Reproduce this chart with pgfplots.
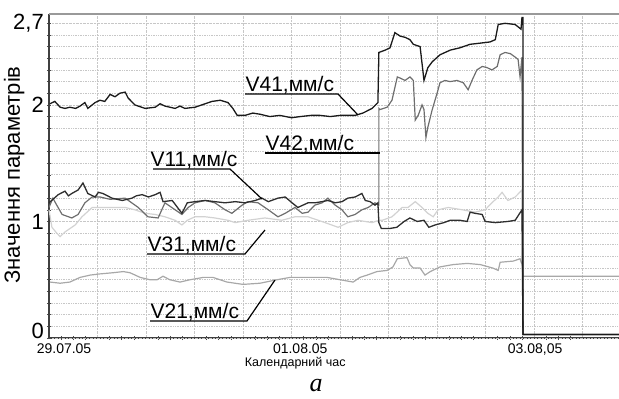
\documentclass[border=0pt]{standalone}
\usepackage{fontspec}
\setmainfont{Liberation Sans}
\newfontfamily\serifface{Liberation Serif}
\usepackage{pgfplots}
\pgfplotsset{compat=1.18}
\definecolor{cV41}{HTML}{1A1A1A}
\definecolor{cV11}{HTML}{2E2E2E}
\definecolor{cV42}{HTML}{6E6E6E}
\definecolor{cV21}{HTML}{A8A8A8}
\definecolor{cV31}{HTML}{D2D2D2}
\begin{document}
\begin{tikzpicture}
\useasboundingbox (0pt,0pt) rectangle (619pt,-399pt);
\begin{axis}[
  width=570pt, height=324pt, scale only axis,
  at={(49pt,-338pt)}, anchor=south west,
  xmin=0, xmax=11.75, ymin=0, ymax=2.78,
  axis x line*=bottom, axis y line*=left,
  axis line style={-, draw=black!75, line width=1.1pt},
  clip=false,
  xtick={0,1,...,11}, xticklabels={},
  major x tick style={draw=none},
  minor x tick num=3,
  extra x ticks={0.31,5.18,10.02},
  extra x tick labels={29.07.05,01.08.05,{03.08,05}},
  extra x tick style={grid=none, major tick length=0pt},
  xmajorgrids=true,
  ytick={1,2,2.7}, yticklabels={1,2,{2,7}},
  extra y ticks={0}, extra y tick labels={0},
  extra y tick style={yticklabel style={yshift=7pt}},
  minor ytick={0.1,0.2,0.3,0.4,0.5,0.6,0.7,0.8,0.9,1.1,1.2,1.3,1.4,1.5,1.6,1.7,1.8,1.9,2.1,2.2,2.3,2.4,2.5,2.6},
  ymajorgrids=true, yminorgrids=true,
  grid style={densely dotted, black!22, line width=0.7pt},
  minor grid style={densely dotted, black!22, line width=0.7pt},
  tick align=center,
  major tick length=4pt, minor tick length=4pt,
  tick style={draw=black!70, line width=0.6pt},
  xticklabel style={font=\fontsize{14}{14}\selectfont, inner sep=0pt, yshift=-6pt},
  yticklabel style={font=\fontsize{22}{22}\selectfont, inner sep=0pt, xshift=-3pt},
  xlabel={Календарний час},
  xlabel style={at={(rel axis cs:0.432,0)}, anchor=north, inner sep=0pt, yshift=-19pt, font=\fontsize{12.5}{12.5}\selectfont},
  ylabel={Значення параметрів},
  ylabel style={at={(rel axis cs:-0.0428,0.503)}, anchor=south, inner sep=0pt, font=\fontsize{22}{22}\selectfont},
]
% top frame line
\draw[black!40, line width=1.3pt] (rel axis cs:0,1) -- (rel axis cs:1,1);
% V31
\addplot[cV31, line width=1.2pt] coordinates {
(0,1.10) (0.06,0.95) (0.16,0.90) (0.23,0.87) (0.33,0.91) (0.54,0.97) (0.68,1.04) (0.89,1.12) (1.09,1.12) (1.30,1.12) (1.57,1.12) (1.77,1.10) (1.98,1.07) (2.19,1.06) (2.39,1.04) (2.60,1.01) (2.74,0.97) (2.85,1.01) (3.01,1.04) (3.22,1.04) (3.42,1.03) (3.69,1.01) (3.84,0.99) (4.10,1.01) (4.45,1.03) (4.80,1.01) (5.07,1.04) (5.34,1.04) (5.69,0.99) (5.96,0.95) (6.16,0.99) (6.37,1.01) (6.66,0.99) (6.80,1.01) (6.87,1.01) (7.07,1.04) (7.28,1.12) (7.40,1.12) (7.55,1.17) (7.69,1.12) (7.81,1.07) (7.92,1.04) (8.02,1.10) (8.23,1.12) (8.52,1.10) (8.78,1.08) (8.99,1.10) (9.13,1.16) (9.26,1.21) (9.34,1.25) (9.46,1.18) (9.61,1.21) (9.75,1.27) (9.77,0.03) (11.75,0.03)};
% V21
\addplot[cV21, line width=1.2pt] coordinates {
(0.02,0.48) (0.23,0.47) (0.43,0.48) (0.64,0.52) (0.85,0.54) (1.05,0.55) (1.32,0.56) (1.53,0.57) (1.67,0.56) (1.88,0.52) (2.08,0.50) (2.23,0.50) (2.35,0.53) (2.49,0.50) (2.70,0.48) (2.91,0.50) (3.18,0.52) (3.38,0.52) (3.67,0.48) (4.00,0.46) (4.35,0.47) (4.70,0.50) (4.97,0.52) (5.44,0.52) (5.73,0.52) (6.00,0.50) (6.27,0.48) (6.41,0.52) (6.56,0.54) (6.76,0.57) (6.97,0.58) (7.09,0.61) (7.18,0.68) (7.38,0.69) (7.44,0.63) (7.51,0.60) (7.65,0.60) (7.75,0.54) (7.86,0.57) (8.06,0.61) (8.33,0.63) (8.62,0.64) (8.89,0.63) (9.15,0.60) (9.26,0.58) (9.30,0.65) (9.57,0.66) (9.71,0.68) (9.75,0.63) (9.77,0.53) (11.75,0.53)};
% V42
\addplot[cV42, line width=1.2pt] coordinates {
(0,1.12) (0.08,1.20) (0.16,1.14) (0.27,1.06) (0.47,1.03) (0.60,1.06) (0.74,1.16) (0.89,1.21) (1.05,1.21) (1.26,1.19) (1.57,1.20) (1.84,1.12) (2.04,1.04) (2.25,1.03) (2.39,1.16) (2.60,1.10) (2.74,1.06) (2.87,1.12) (3.01,1.16) (3.22,1.18) (3.42,1.16) (3.63,1.10) (3.77,1.07) (3.98,1.14) (4.10,1.17) (4.31,1.16) (4.52,1.10) (4.72,1.04) (4.87,1.07) (5.07,1.12) (5.22,1.07) (5.34,1.08) (5.48,1.14) (5.63,1.16) (5.75,1.20) (5.90,1.14) (6.04,1.10) (6.16,1.04) (6.31,1.06) (6.45,1.10) (6.58,1.12) (6.72,1.16) (6.80,1.14) (6.80,1.97) (6.82,1.96) (6.97,1.98) (7.07,2.04) (7.18,2.24) (7.24,2.23) (7.34,2.21) (7.44,2.24) (7.51,2.21) (7.55,1.87) (7.61,1.91) (7.69,2.00) (7.73,1.96) (7.77,1.72) (7.81,1.81) (7.90,1.96) (8.00,2.10) (8.06,2.19) (8.16,2.21) (8.27,2.20) (8.41,2.21) (8.54,2.19) (8.64,2.13) (8.72,2.21) (8.82,2.30) (8.93,2.33) (9.03,2.32) (9.13,2.30) (9.24,2.33) (9.30,2.43) (9.40,2.45) (9.51,2.44) (9.61,2.41) (9.67,2.39) (9.71,2.24) (9.75,2.41) (9.77,0.03) (11.75,0.03)};
% V11
\addplot[cV11, line width=1.3pt] coordinates {
(0,1.16) (0.19,1.23) (0.33,1.26) (0.40,1.22) (0.47,1.24) (0.60,1.27) (0.70,1.33) (0.80,1.24) (0.95,1.21) (1.02,1.25) (1.11,1.24) (1.30,1.20) (1.51,1.18) (1.71,1.20) (1.80,1.22) (1.92,1.23) (2.05,1.21) (2.19,1.23) (2.29,1.25) (2.35,1.17) (2.54,1.18) (2.74,1.07) (2.85,1.16) (3.01,1.17) (3.22,1.18) (3.42,1.17) (3.63,1.16) (3.84,1.17) (4.04,1.16) (4.25,1.18) (4.39,1.20) (4.52,1.17) (4.72,1.20) (4.87,1.21) (5.01,1.16) (5.13,1.12) (5.34,1.16) (5.48,1.16) (5.63,1.17) (5.75,1.18) (5.90,1.16) (6.04,1.17) (6.16,1.20) (6.31,1.21) (6.45,1.24) (6.52,1.18) (6.62,1.17) (6.72,1.14) (6.78,1.16) (6.80,0.99) (6.85,0.94) (7.03,0.94) (7.17,0.95) (7.32,1.00) (7.44,1.03) (7.59,1.00) (7.73,1.01) (7.83,0.95) (7.96,0.97) (8.14,0.99) (8.27,1.01) (8.47,1.01) (8.62,1.00) (8.68,1.08) (8.78,1.07) (8.93,1.06) (8.99,1.00) (9.20,0.99) (9.46,1.00) (9.61,1.01) (9.75,1.10) (9.77,0.03) (11.75,0.03)};
% V41
\addplot[cV41, line width=1.3pt] coordinates {
(0.02,2.01) (0.12,2.03) (0.23,1.98) (0.33,1.97) (0.43,1.98) (0.55,1.97) (0.64,1.99) (0.74,2.02) (0.80,1.97) (0.95,2.02) (1.05,2.04) (1.15,2.03) (1.26,2.09) (1.36,2.07) (1.46,2.10) (1.57,2.11) (1.63,2.06) (1.77,2.00) (1.98,1.97) (2.19,1.98) (2.29,2.01) (2.39,1.99) (2.60,1.97) (2.70,1.99) (2.80,1.97) (3.01,1.98) (3.22,2.01) (3.36,2.03) (3.53,2.04) (3.69,2.02) (3.79,1.97) (3.88,1.91) (4.04,1.91) (4.20,1.93) (4.35,1.92) (4.55,1.90) (4.76,1.91) (5.00,1.89) (5.18,1.90) (5.40,1.91) (5.59,1.91) (5.80,1.90) (6.00,1.91) (6.31,1.91) (6.47,1.93) (6.66,1.97) (6.78,2.02) (6.80,2.45) (6.93,2.47) (7.03,2.49) (7.13,2.62) (7.24,2.59) (7.34,2.58) (7.44,2.56) (7.51,2.52) (7.65,2.50) (7.73,2.21) (7.81,2.32) (7.90,2.37) (8.06,2.43) (8.27,2.47) (8.47,2.49) (8.68,2.52) (8.89,2.53) (9.09,2.54) (9.20,2.56) (9.26,2.69) (9.40,2.70) (9.61,2.69) (9.73,2.65) (9.75,2.75) (9.77,2.75) (9.77,0.03) (11.75,0.03)};
\end{axis}
% annotation labels
\begin{scope}[every node/.style={anchor=base west, inner sep=0pt, font=\fontsize{21}{21}\selectfont}, line width=1.2pt]
\node at (245pt,-91pt) {V41,мм/с};
\draw (245pt,-94pt) -- (338pt,-94pt) -- (358pt,-115pt);
\node at (265pt,-150pt) {V42,мм/с};
\draw (265pt,-153pt) -- (380pt,-153pt);
\node at (150pt,-166pt) {V11,мм/с};
\draw (153pt,-169pt) -- (230pt,-169pt) -- (262pt,-199pt);
\node at (147pt,-251pt) {V31,мм/с};
\draw (147pt,-254pt) -- (245pt,-254pt) -- (265pt,-230pt);
\node at (150pt,-318pt) {V21,мм/с};
\draw (150pt,-321pt) -- (247pt,-321pt) -- (275pt,-280pt);
\end{scope}
\node[inner sep=0pt, font=\serifface\itshape\fontsize{26}{26}\selectfont] at (316pt,-386pt) {а};
\end{tikzpicture}
\end{document}
